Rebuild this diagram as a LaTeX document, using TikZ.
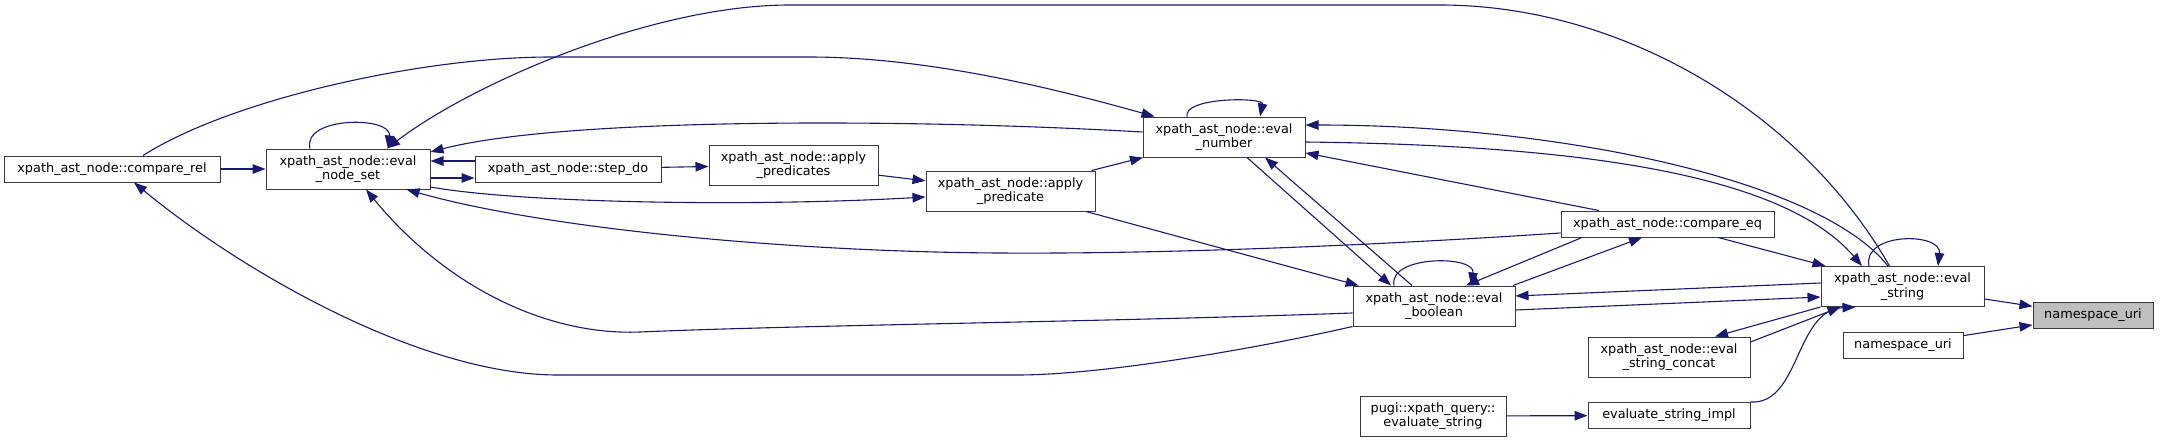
\documentclass[tikz,border=0pt]{standalone}
\usepackage{fontspec}
\setmainfont{DejaVu Sans}
\usepackage{tikz}
\usetikzlibrary{arrows.meta}
\definecolor{edgeblue}{HTML}{191970}
\definecolor{nodegray}{HTML}{BFBFBF}
\definecolor{borderdark}{HTML}{3A3A3A}
\tikzset{
  fnode/.style={draw=borderdark,line width=1pt,fill=white,rectangle,align=center,
    inner sep=1pt,font=\fontsize{12.85}{14.5}\selectfont},
  fnodegray/.style={fnode,fill=nodegray},
  oneline/.style={minimum height=26},
  twoline/.style={minimum height=40},
  call/.style={-{Triangle[length=13pt,width=9.5pt]},line width=1.1pt,draw=edgeblue}
}
\begin{document}
\begin{tikzpicture}[x=1pt,y=-1pt]
\useasboundingbox (0,0) rectangle (2160,442);

\node[fnode,oneline,minimum width=216] (cmprel) at (112,169) {xpath\_ast\_node::compare\_rel};
\node[fnode,twoline,minimum width=164] (nodeset) at (348,169) {xpath\_ast\_node::eval\\\_node\_set};
\node[fnode,oneline,minimum width=186] (stepdo) at (568,169) {xpath\_ast\_node::step\_do};
\node[fnode,twoline,minimum width=169] (applys) at (793.5,165) {xpath\_ast\_node::apply\\\_predicates};
\node[fnode,twoline,minimum width=169] (apply) at (1010.5,191) {xpath\_ast\_node::apply\\\_predicate};
\node[fnode,twoline,minimum width=162] (evnum) at (1224,137) {xpath\_ast\_node::eval\\\_number};
\node[fnode,oneline,minimum width=213] (cmpeq) at (1667.5,224) {xpath\_ast\_node::compare\_eq};
\node[fnode,twoline,minimum width=162] (evbool) at (1434,306) {xpath\_ast\_node::eval\\\_boolean};
\node[fnode,twoline,minimum width=163] (evstr) at (1902.5,286.5) {xpath\_ast\_node::eval\\\_string};
\node[fnodegray,oneline,minimum width=120] (nsuri) at (2093,315.5) {namespace\_uri};
\node[fnode,oneline,minimum width=120] (nsuri2) at (1903,345) {namespace\_uri};
\node[fnode,twoline,minimum width=162] (concat) at (1669,357) {xpath\_ast\_node::eval\\\_string\_concat};
\node[fnode,oneline,minimum width=162] (impl) at (1669,415.5) {evaluate\_string\_impl};
\node[fnode,twoline,minimum width=146] (pugi) at (1433,416) {pugi::xpath\_query::\\evaluate\_string};

\draw[call] (cmprel)--(nodeset);
\draw[call] ([xshift=31]cmprel.north) .. controls (230,100) and (420,57) .. (551,57) -- (809,57)
  .. controls (930,57) and (1060,90) .. ([xshift=12]evnum.north west);
\draw[call] (evbool.south west) .. controls (1250,350) and (1100,375) .. (1017,375) -- (558,375)
  .. controls (420,375) and (240,270) .. ([xshift=22]cmprel.south);
\draw[call] ([xshift=-38]nodeset.north) .. controls (302,116) and (392,116) .. ([xshift=40]nodeset.north);
\draw[call] ([yshift=8]stepdo.west)--([yshift=8]nodeset.east);
\draw[call] ([yshift=-9]nodeset.east)--([yshift=-9]stepdo.west);
\draw[call] ([yshift=5]evnum.west) .. controls (900,118) and (560,118) .. ([yshift=17]nodeset.east);
\draw[call] ([yshift=-18]nodeset.east) .. controls (520,203) and (750,207) .. ([yshift=-6]apply.west);
\draw[call] ([yshift=-9]cmpeq.west) .. controls (1350,247) and (1150,254) .. (1000,253)
  .. controls (800,252) and (550,230) .. ([xshift=-24]nodeset.south east);
\draw[call] ([yshift=-7]evbool.west) .. controls (1100,322) and (800,325) .. (640,332)
  .. controls (540,336) and (440,280) .. ([xshift=18]nodeset.south);
\draw[call] (stepdo)--(applys);
\draw[call] (applys)--(apply);
\draw[call] (apply)--(evnum);
\draw[call] (apply)--(evbool);
\draw[call] ([xshift=-37]evnum.north) .. controls (1183,97) and (1264,97) .. ([xshift=36]evnum.north);
\draw[call] ([xshift=23]evnum.south)--([xshift=-43]evbool.north);
\draw[call] ([xshift=-22]evbool.north)--([xshift=41]evnum.south);
\draw[call] ([xshift=-40]evbool.north) .. controls (1388,255) and (1476,255) .. ([xshift=37]evbool.north);
\draw[call] (cmpeq)--(evnum);
\draw[call] ([xshift=-85.5]cmpeq.south)--([xshift=32]evbool.north);
\draw[call] ([xshift=79]evbool.north)--([xshift=-25.5]cmpeq.south);
\draw[call] (cmpeq)--(evstr);
\draw[call] ([yshift=3.5]evstr.west)--([yshift=10]evbool.east);
\draw[call] ([yshift=-4]evbool.east)--([yshift=-10.5]evstr.west);
\draw[call] (evstr.south west)--([xshift=46]concat.north);
\draw[call] ([yshift=15]concat.east)--([xshift=20]evstr.south west);
\draw[call] (impl.north east) .. controls (1800,405) and (1795,310) .. ([xshift=35]evstr.south west);
\draw[call] (pugi)--(impl);
\draw[call] ([xshift=-33.5]evstr.north) .. controls (1862,232) and (1942,232) .. ([xshift=35.5]evstr.north);
\draw[call] (evstr)--(nsuri);
\draw[call] (nsuri2)--(nsuri);
\draw[call] ([xshift=-14.5]evstr.north) .. controls (1820,180) and (1560,125) .. ([yshift=12]evnum.east);
\draw[call] ([yshift=-5]evnum.east) .. controls (1560,145) and (1780,170) .. ([xshift=-40.5]evstr.north);
\draw[call] ([xshift=-13]evstr.north) .. controls (1800,110) and (1620,5) .. (1440,5) -- (790,5)
  .. controls (650,5) and (470,85) .. ([xshift=39]nodeset.north);
\end{tikzpicture}
\end{document}
